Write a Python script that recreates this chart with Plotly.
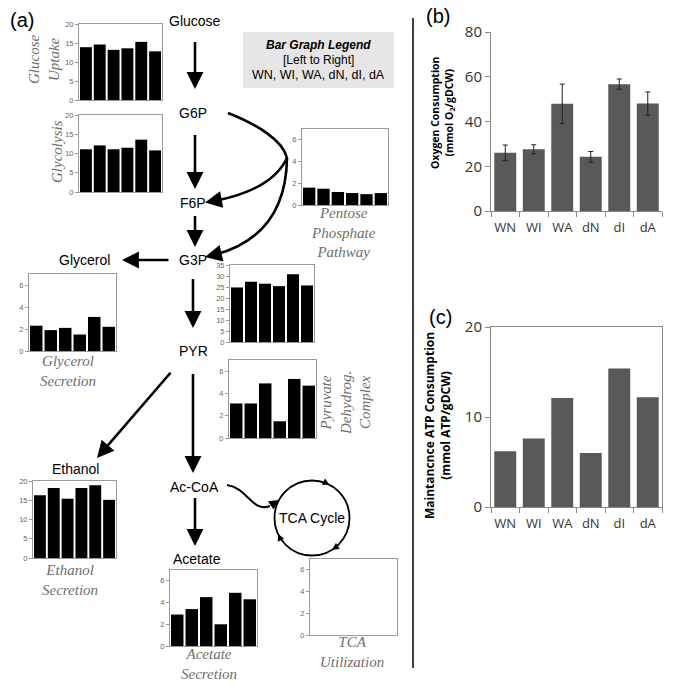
import math
import plotly.graph_objects as go

W = H = 685

# ---------------- data ----------------
categories = ["WN", "WI", "WA", "dN", "dI", "dA"]

glucose_uptake = [13.9, 14.6, 13.2, 13.6, 15.3, 12.8]
glycolysis = [11.1, 12.1, 11.1, 11.5, 13.6, 10.8]
pentose_phosphate = [1.6, 1.5, 1.2, 1.1, 1.0, 1.1]
glycerol_secretion = [2.3, 1.9, 2.1, 1.5, 3.1, 2.2]
g3p_to_pyr = [24.8, 27.4, 26.5, 25.4, 30.8, 25.7]
pyruvate_dehydrog = [3.1, 3.1, 4.9, 1.5, 5.3, 4.7]
ethanol_secretion = [16.3, 18.2, 15.4, 18.2, 18.9, 15.1]
acetate_secretion = [2.9, 3.4, 4.5, 2.0, 4.9, 4.3]
tca_utilization = [None, None, None, None, None, None]

oxygen_consumption = [26.0, 27.6, 47.9, 24.2, 56.7, 48.0]
oxygen_error = [3.5, 2.0, 8.8, 2.4, 2.3, 5.2]
atp_maintenance = [6.2, 7.6, 12.1, 6.0, 15.4, 12.2]


def px(x):
    return x / W


def py(y):
    return 1 - y / H


fig = go.Figure()
layout = dict(width=W, height=H, margin=dict(l=0, r=0, t=0, b=0, pad=0, autoexpand=False),
              paper_bgcolor="white", plot_bgcolor="white", showlegend=False)

small_panels = [
    (glucose_uptake, 79, 162, 24, 100, 20, 5),
    (glycolysis, 79, 162, 115, 192, 20, 5),
    (pentose_phosphate, 302, 388, 129, 205, 7, 2),
    (glycerol_secretion, 29, 116, 274, 351, 7, 2),
    (g3p_to_pyr, 230, 314, 265, 342, 35, 5),
    (pyruvate_dehydrog, 229, 316, 360, 438, 7, 2),
    (ethanol_secretion, 33, 116, 481, 558, 20, 5),
    (acetate_secretion, 170, 257, 570, 646, 7, 2),
    (tca_utilization, 310, 397, 559, 635, 7, 2),
]

idx = 0
for vals, x0, x1, yt, yb, ymax, dt in small_panels:
    idx += 1
    s = "" if idx == 1 else str(idx)
    fig.add_trace(go.Bar(x=categories, y=vals, xaxis="x" + s, yaxis="y" + s,
                         marker=dict(color="black", line=dict(width=0)), width=0.86))
    layout["xaxis" + s] = dict(domain=[px(x0), px(x1)], anchor="y" + s, showline=True, mirror=True,
                               linecolor="#9a9a9a", linewidth=1, showticklabels=False, ticks="",
                               showgrid=False, zeroline=False, range=[-0.5, 5.5], automargin=False)
    layout["yaxis" + s] = dict(domain=[py(yb), py(yt)], anchor="x" + s, showline=True, mirror=True,
                               linecolor="#9a9a9a", linewidth=1, range=[0, ymax], dtick=dt,
                               ticks="outside", ticklen=3, tickcolor="#9a9a9a",
                               tickfont=dict(family="Liberation Sans", size=7.5, color="#666"),
                               showgrid=False, zeroline=False, automargin=False)

# panel (b)
idx += 1
sb = str(idx)
fig.add_trace(go.Bar(x=categories, y=oxygen_consumption, xaxis="x" + sb, yaxis="y" + sb,
                     marker=dict(color="#595959", line=dict(width=0)), width=0.77,
                     error_y=dict(type="data", array=oxygen_error, color="#222", thickness=1, width=2.5)))
axis_font = dict(family="Open Sans", size=13, color="#333")
layout["xaxis" + sb] = dict(domain=[px(491), px(662)], anchor="y" + sb, showline=True, linecolor="#8a8a8a",
                            ticks="outside", tickson="boundaries", ticklen=5, tickcolor="#8a8a8a",
                            tickangle=0, tickfont=axis_font, showgrid=False, zeroline=False,
                            automargin=False, ticklabelstandoff=4)
layout["yaxis" + sb] = dict(domain=[py(211), py(32)], anchor="x" + sb, showline=True, linecolor="#8a8a8a",
                            range=[0, 80], dtick=20, ticks="outside", ticklen=5, tickcolor="#8a8a8a",
                            tickfont=dict(family="Open Sans", size=15, color="#333"), showgrid=False,
                            zeroline=False, automargin=False)

# panel (c)
idx += 1
sc = str(idx)
fig.add_trace(go.Bar(x=categories, y=atp_maintenance, xaxis="x" + sc, yaxis="y" + sc,
                     marker=dict(color="#595959", line=dict(width=0)), width=0.77))
layout["xaxis" + sc] = dict(domain=[px(491), px(662)], anchor="y" + sc, showline=True, mirror=True,
                            linecolor="#8a8a8a", ticks="outside", tickson="boundaries", ticklen=5,
                            tickangle=0, tickcolor="#8a8a8a", tickfont=axis_font, showgrid=False,
                            zeroline=False, automargin=False, ticklabelstandoff=4)
layout["yaxis" + sc] = dict(domain=[py(507), py(327)], anchor="x" + sc, showline=True, mirror=True,
                            linecolor="#8a8a8a", range=[0, 20], dtick=10, ticks="outside", ticklen=5,
                            tickcolor="#8a8a8a", tickfont=dict(family="Open Sans", size=15, color="#333"),
                            showgrid=False, zeroline=False, automargin=False)

annotations = []
shapes = []


def text(x, y, t, size=14, color="black", family="Liberation Sans", angle=0, **kw):
    annotations.append(dict(x=px(x), y=py(y), xref="paper", yref="paper", text=t, showarrow=False,
                            font=dict(size=size, color=color, family=family), textangle=angle,
                            xanchor="center", yanchor="middle", **kw))


def arrow(tail, head, width=2.6, size=1.3, head_style=2):
    annotations.append(dict(x=px(head[0]), y=py(head[1]), xref="paper", yref="paper", text=" ",
                            showarrow=True, axref="pixel", ayref="pixel",
                            ax=tail[0] - head[0], ay=tail[1] - head[1],
                            arrowhead=head_style, arrowwidth=width, arrowsize=size,
                            arrowcolor="black", standoff=0, startstandoff=0,
                            font=dict(size=1)))


def path(d_pts, width=2.6):
    parts = []
    for cmd, pts in d_pts:
        parts.append(cmd + " " + " ".join(f"{px(a):.5f},{py(b):.5f}" for a, b in pts))
    shapes.append(dict(type="path", xref="paper", yref="paper", path=" ".join(parts),
                       line=dict(color="black", width=width)))


# panel labels
text(22, 20, "(a)", size=20)
text(438, 16, "(b)", size=20)
text(440, 317, "(c)", size=20)

# separator
shapes.append(dict(type="line", xref="paper", yref="paper", x0=px(413), x1=px(413), y0=py(18), y1=py(668),
                   line=dict(color="black", width=1.5)))

# legend box
shapes.append(dict(type="rect", xref="paper", yref="paper", x0=px(243), x1=px(394), y0=py(88), y1=py(32),
                   fillcolor="#e6e6e6", line=dict(width=0), layer="below"))
text(318, 45, "<b><i>Bar Graph Legend</i></b>", size=12)
text(318, 60, "[Left to Right]", size=12)
text(318, 75, "WN, WI, WA, dN, dI, dA", size=12.5)

# node labels
text(195, 21, "Glucose")
text(193, 113, "G6P")
text(193, 203, "F6P")
text(193, 260, "G3P")
text(84, 260, "Glycerol")
text(193, 351, "PYR")
text(75, 469, "Ethanol")
text(194, 487, "Ac-CoA")
text(197, 559, "Acetate")
text(312, 518, "TCA Cycle", size=14)

# arrows
arrow((195, 40), (195, 89))
arrow((195, 133), (195, 189))
arrow((195, 214), (195, 247))
arrow((170, 260), (122, 260))
arrow((193, 277), (193, 328))
arrow((172, 371), (97, 458))
arrow((193, 372), (193, 473))
arrow((195, 496), (195, 546))

# pentose phosphate loop
path([("M", [(228, 113)]), ("C", [(256, 124), (283, 140), (287, 158)])])
path([("M", [(287, 158)]), ("Q", [(272, 190), (214, 201)])])
path([("M", [(287, 158)]), ("Q", [(286, 236), (214, 255)])])
arrow((216, 200.5), (205, 202.5))
arrow((216, 254.5), (205, 257))

# Ac-CoA to TCA cycle
path([("M", [(227, 485)]), ("C", [(248, 488), (252, 513), (270, 506)])], width=2)
arrow((270, 506), (279, 500), width=1.8, size=1.1)

# TCA circle
cx, cy, r = 312, 518, 37.5
shapes.append(dict(type="circle", xref="paper", yref="paper", x0=px(cx - r), x1=px(cx + r),
                   y0=py(cy + r), y1=py(cy - r), line=dict(color="black", width=1.8)))
for deg in (-62, 58, 155):
    th = math.radians(deg)
    hx, hy = cx + r * math.cos(th), cy + r * math.sin(th)
    tx, ty = -math.sin(th), math.cos(th)
    arrow((hx - 5 * tx, hy - 5 * ty), (hx, hy), width=1.4, size=1.0)

# italic panel labels
ital = dict(family="Liberation Serif", size=15, color="#6e6e6e")
text(44, 60, "<i>Glucose<br>Uptake</i>", angle=-90, **ital)
text(57, 152, "<i>Glycolysis</i>", angle=-90, **ital)
text(343, 232, "<i>Pentose<br>Phosphate<br>Pathway</i>", **ital)
text(68, 371, "<i>Glycerol<br>Secretion</i>", **ital)
text(345, 403, "<i>Pyruvate<br>Dehydrog.<br>Complex</i>", angle=-90, **ital)
text(70, 580, "<i>Ethanol<br>Secretion</i>", **ital)
text(209, 664, "<i>Acetate<br>Secretion</i>", **ital)
text(352, 652, "<i>TCA<br>Utilization</i>", **ital)

# y titles for (b) and (c)
text(442, 113, "<b>Oxygen Consumption<br>(mmol O<sub>2</sub>/gDCW)</b>", size=10.5, family="Open Sans", angle=-90)
text(438, 426, "<b>Maintancnce ATP Consumption<br>(mmol ATP/gDCW)</b>", size=12, family="Open Sans", angle=-90)

layout["annotations"] = annotations
layout["shapes"] = shapes
fig.update_layout(**layout)
fig.write_html("out.html", config={"displayModeBar": False, "staticPlot": True},
               post_script="document.body.style.margin='0px';document.body.style.padding='0px';")
